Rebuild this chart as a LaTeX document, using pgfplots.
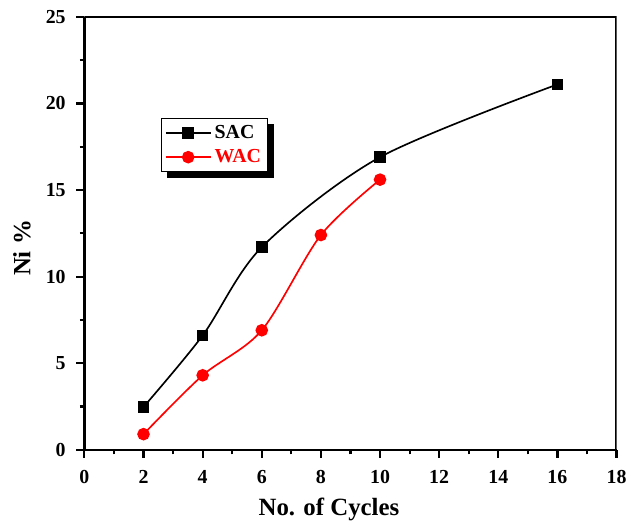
\documentclass[border=0pt]{standalone}
\usepackage{pgfplots}
\pgfplotsset{compat=1.18}
\usepackage{fontspec}
\setmainfont{Liberation Serif}
\usetikzlibrary{backgrounds}
\pgfplotstableread{
x y
2 2.47
4 6.6
6 11.7
10 16.9
16 21.1
}\sac
\pgfplotstableread{
x y
2 0.9
4 4.3
6 6.9
8 12.4
10 15.6
}\wac
\begin{document}
\begin{tikzpicture}
\begin{axis}[
  scale only axis,
  width=321.6pt, height=261.6pt,
  xmin=0, xmax=18, ymin=0, ymax=25,
  xtick={0,2,...,18}, ytick={0,5,...,25},
  minor x tick num=1, minor y tick num=1,
  axis x line*=bottom, axis y line*=left,
  axis line style={line width=1.5pt},
  every outer x axis line/.append style={-},
  every outer y axis line/.append style={-},
  tick align=outside,
  major tick length=4.8pt, minor tick length=2.8pt,
  tick style={line width=1.3pt, black},
  /pgf/number format/assume math mode=true,
  ticklabel style={font=\bfseries\fontsize{12}{14}\selectfont},
  xticklabel style={yshift=-4pt},
  yticklabel style={xshift=-3pt},
  xlabel={No. of Cycles}, ylabel={Ni \%},
  label style={font=\bfseries\fontsize{15}{18}\selectfont},
  x label style={at={(axis description cs:0.5,0)}, anchor=center, yshift=-36pt, xshift=-13pt},
  y label style={at={(axis description cs:-0.1175,0.466)}, anchor=center},
  legend style={at={(0.144,0.766)}, anchor=north west, draw=black, fill=white, line width=0.8pt,
    font=\bfseries\fontsize{12}{14}\selectfont, inner xsep=2pt, inner ysep=2pt,
    row sep=1pt, name=leg,
    /tikz/every even column/.append style={column sep=3pt}},
  legend cell align=left,
  legend image code/.code={
    \draw[#1, mark=none] (0cm,0cm) -- (0.95cm,0cm);
    \draw[#1, draw=none] plot coordinates {(0.475cm,0cm)};
  },
]
\addplot[black, line width=1pt, smooth, mark=square*, mark size=3pt, mark options={solid}] table[x=x,y=y] {\sac};
\addlegendentry{SAC}
\addplot[red, line width=1pt, smooth, mark=*, mark size=3.3pt, mark options={solid}] table[x=x,y=y] {\wac};
\addlegendentry{\textcolor{red}{WAC}}
\draw[line width=1.5pt] (rel axis cs:0,1) -- (rel axis cs:1,1) -- (rel axis cs:1,0);
\end{axis}
\begin{scope}[on background layer]
\fill[black] ([xshift=3.5pt,yshift=-3.5pt]leg.south west) rectangle ([xshift=3.5pt,yshift=-3.5pt]leg.north east);
\end{scope}
\useasboundingbox ([xshift=-51pt,yshift=-41.4pt]current axis.south west) rectangle ([xshift=6.6pt,yshift=10.2pt]current axis.north east);
\end{tikzpicture}
\end{document}
